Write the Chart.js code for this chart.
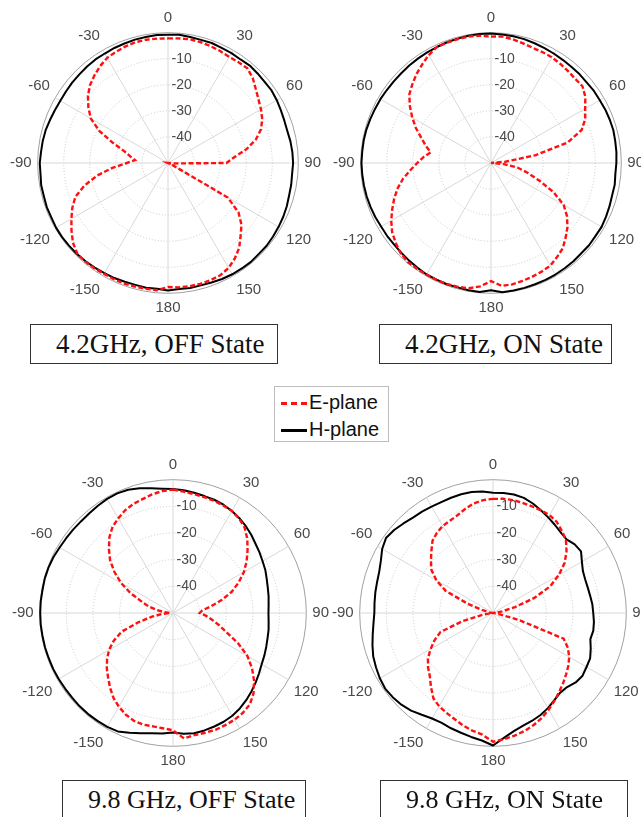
<!DOCTYPE html>
<html>
<head>
<meta charset="utf-8">
<script src="https://cdn.jsdelivr.net/npm/chart.js@4.4.0/dist/chart.umd.min.js"></script>
<style>
  html, body { margin: 0; padding: 0; background: #fff; overflow: hidden; }
  #page { position: relative; width: 641px; height: 817px; overflow: hidden; background: #fff; }
  #page canvas { position: absolute; }
  .caption {
    position: absolute; box-sizing: border-box; border: 1px solid #333;
    font-family: "Liberation Serif", "Times New Roman", serif; font-size: 27px;
    color: #111; padding-left: 25px; white-space: nowrap;
  }
  .caption.low { font-size: 26px; }
  #legend {
    position: absolute; left: 274px; top: 386px; width: 115px; height: 56px;
    box-sizing: border-box; border: 1px solid #bdbdbd;
    font-family: "Liberation Sans", Arial, sans-serif; font-size: 20px; color: #111;
  }
  #legend .row { position: absolute; left: 6px; height: 24px; line-height: 24px; white-space: nowrap; }
  #legend .swatch { display: inline-block; width: 26px; vertical-align: middle; margin-right: 2px; }
  #legend .dash { border-top: 3px dashed #ff1010; }
  #legend .solid { border-top: 3px solid #000; }
</style>
</head>
<body>
<div id="page">
  <canvas id="c42off" width="316" height="316" style="left:8px; top:5px;"></canvas>
  <canvas id="c42on" width="316" height="316" style="left:331px; top:5px;"></canvas>
  <canvas id="c98off" width="322" height="322" style="left:10px; top:452px;"></canvas>
  <canvas id="c98on" width="322" height="322" style="left:330px; top:452px;"></canvas>

  <div class="caption" style="left:30px; top:324px; width:248px; height:40px; line-height:38px;">4.2GHz, OFF State</div>
  <div class="caption" style="left:379px; top:324px; width:233px; height:40px; line-height:38px;">4.2GHz, ON State</div>
  <div class="caption low" style="left:62px; top:780px; width:244px; height:44px; line-height:38px;">9.8 GHz, OFF State</div>
  <div class="caption low" style="left:380px; top:780px; width:248px; height:44px; line-height:38px;">9.8 GHz, ON State</div>

  <div id="legend">
    <div class="row" style="top:3px;"><span class="swatch dash"></span>E-plane</div>
    <div class="row" style="top:30px;"><span class="swatch solid"></span>H-plane</div>
  </div>
</div>

<script>
// angle categories, clockwise from the top (deg)
const angles = [0, 5, 10, 15, 20, 25, 30, 35, 40, 45, 50, 55, 60, 65, 70, 75, 80, 85, 90, 95,
  100, 105, 110, 115, 120, 125, 130, 135, 140, 145, 150, 155, 160, 165, 170, 175, 180,
  -175, -170, -165, -160, -155, -150, -145, -140, -135, -130, -125, -120, -115, -110, -105,
  -100, -95, -90, -85, -80, -75, -70, -65, -60, -55, -50, -45, -40, -35, -30, -25, -20, -15, -10, -5];

// normalized gain (dB), same order as angles
const ePlane42Off = [-2.2, -2.0, -1.8, -2.0, -2.3, -2.6, -3.0, -2.8, -2.6, -4.0,
  -6.0, -7.6, -8.8, -10.1, -12.0, -15.1, -19.4, -24.5, -27.6, -48,
  -50, -50, -50, -48, -23.5, -17.0, -13.2, -10.6, -7.5, -5.3,
  -3.5, -2.5, -2.2, -2.0, -2.0, -2.1, -2.4,
  -1.0, -1.0, -0.9, -0.8, -0.8, -0.9, -0.7, -0.6, -0.8, -2.4,
  -4.8, -7.2, -9.5, -12.2, -16.9, -22.5, -28.6, -34.2, -37.3, -35.3,
  -32.7, -27.6, -20.9, -15.8, -12.7, -9.9, -7.7, -6.1, -4.6, -3.4,
  -2.9, -2.4, -2.0, -2.0, -2.1];
const hPlane42Off = [-0.8, -0.6, -0.9, -1.1, -1.0, -1.3, -1.3, -1.5, -1.2, -1.4,
  -1.6, -1.5, -1.8, -2.2, -2.5, -2.6, -2.3, -2.1, -2.0, -2.2,
  -2.0, -1.9, -1.5, -1.2, -1.0, -0.8, -0.6, -0.7, -0.5, -0.6,
  -0.7, -0.9, -1.2, -1.4, -1.3, -1.5, -1.1,
  -1.6, -1.4, -1.6, -1.5, -1.3, -1.2, -1.0, -0.8, -0.6, -0.5,
  -0.4, -0.4, -0.6, -0.5, -0.7, -0.6, -0.9, -0.8, -1.1, -1.2,
  -1.4, -1.8, -2.1, -2.3, -2.2, -2.0, -1.9, -1.7, -1.5, -1.5,
  -1.3, -1.2, -1.0, -0.9, -0.7];

const ePlane42On = [-1.5, -1.3, -1.8, -2.5, -3.0, -3.1, -3.2, -3.6, -4.0, -4.3,
  -4.2, -5.8, -8.3, -10.1, -13.0, -19.5, -32.5, -44.5, -50, -45,
  -39.5, -35.5, -30.3, -23.5, -17.8, -14.4, -11.7, -9.5, -7.2, -5.9,
  -4.5, -4.0, -3.6, -3.2, -2.7, -2.7, -4.7,
  -2.5, -1.2, -0.8, -0.6, -0.5, -0.5, -0.5, -0.4, -1.0, -2.3,
  -3.7, -5.8, -8.2, -10.5, -13.0, -15.8, -19.0, -21.7, -24.0, -26.5,
  -24.0, -21.5, -18.2, -15.1, -12.0, -9.1, -7.3, -5.5, -3.9, -2.2,
  -0.9, -0.8, -0.8, -0.7, -1.0];
const hPlane42On = [-0.3, -0.5, -0.6, -0.8, -1.1, -1.4, -1.6, -1.8, -1.9, -1.9,
  -2.0, -1.8, -1.8, -1.6, -1.5, -1.4, -1.6, -1.7, -1.9, -2.1,
  -1.8, -1.9, -1.6, -1.3, -1.0, -1.1, -0.9, -1.0, -0.8, -0.7,
  -0.6, -0.5, -0.5, -0.4, -0.3, -0.2, -1.2,
  -0.3, -0.4, -0.6, -0.5, -0.6, -0.6, -0.9, -1.1, -1.3, -1.4,
  -1.3, -1.3, -1.0, -0.8, -0.6, -0.5, -0.4, -0.3, -0.4, -0.4,
  -0.5, -0.7, -0.9, -1.0, -1.2, -1.3, -1.3, -1.2, -1.1, -1.0,
  -0.9, -0.7, -0.6, -0.4, -0.3];

const ePlane98Off = [-3.7, -4.3, -4.7, -5.0, -5.2, -5.5, -5.8, -6.8, -8.2, -10.6,
  -13.5, -16.3, -19.3, -22.8, -26.5, -31.0, -35.5, -39.0, -40.0, -37.5,
  -35.0, -32.0, -28.5, -23.0, -17.8, -13.8, -10.3, -7.3, -5.2, -4.3,
  -3.8, -3.6, -3.4, -3.5, -3.5, -2.8, -6.0,
  -6.6, -6.8, -6.7, -7.0, -8.0, -9.4, -11.1, -13.3, -15.6, -17.6,
  -19.8, -22.3, -25.5, -29.5, -36.5, -42.0, -46.0, -49.0, -47.0, -44.0,
  -40.5, -37.5, -32.5, -27.5, -23.2, -19.2, -16.0, -12.9, -10.5, -9.0,
  -7.5, -6.5, -5.8, -4.8, -4.1];
const hPlane98Off = [-3.5, -3.8, -4.2, -4.6, -4.8, -5.2, -5.8, -6.6, -7.5, -8.5,
  -9.6, -10.4, -11.2, -11.8, -12.6, -13.2, -13.6, -14.0, -14.2, -14.0,
  -13.6, -13.3, -12.8, -12.2, -11.6, -10.6, -9.5, -8.4, -7.3, -6.3,
  -5.5, -5.0, -4.7, -4.4, -4.2, -4.5, -5.2,
  -4.6, -4.2, -3.3, -2.2, -1.0, -0.7, -0.6, -0.5, -0.5, -0.6,
  -0.6, -0.5, -0.4, -0.4, -0.3, -0.3, -0.2, -0.2, -0.2, -0.3,
  -0.2, -0.3, -0.5, -0.9, -1.1, -1.2, -1.3, -1.2, -0.9, -0.6,
  -0.5, -0.8, -1.6, -2.5, -3.2];

const ePlane98On = [-7.2, -7.0, -7.0, -7.2, -7.4, -7.5, -7.6, -8.3, -9.8, -11.3,
  -14.0, -17.2, -21.5, -26.3, -33.5, -41.5, -46.5, -49.0, -50, -49.5,
  -48, -40, -21.8, -19.0, -17.0, -15.5, -14.2, -12.8, -11.4, -9.8,
  -8.2, -6.6, -5.3, -4.2, -3.3, -2.5, -1.7,
  -4.2, -5.2, -6.4, -7.7, -8.7, -9.6, -11.0, -13.8, -16.5, -18.2,
  -20.2, -23.0, -25.8, -29.0, -38.0, -46.0, -49.0, -50, -49.5, -48.5,
  -46, -40, -30.5, -25.5, -21.8, -19.6, -17.3, -14.7, -13.3, -12.3,
  -11.8, -11.0, -9.6, -8.3, -7.5];
const hPlane98On = [-4.9, -4.8, -4.9, -5.3, -6.3, -7.5, -8.6, -9.6, -10.5, -11.0,
  -10.0, -9.7, -11.5, -12.8, -13.2, -13.2, -13.0, -12.6, -12.4, -12.0,
  -11.8, -12.2, -11.0, -9.8, -9.5, -9.0, -9.5, -10.7, -10.9, -10.0,
  -8.8, -7.8, -7.0, -6.3, -5.0, -3.0, -0.3,
  -2.0, -2.8, -3.5, -4.0, -4.5, -4.3, -3.4, -2.2, -1.4, -0.9,
  -0.6, -1.0, -1.6, -2.2, -3.2, -4.2, -5.0, -5.5, -5.4, -5.2,
  -5.0, -4.6, -3.6, -2.0, -1.0, -1.6, -2.5, -3.3, -3.6, -3.9,
  -4.1, -4.0, -3.9, -3.9, -4.3];

const gainTicks = [-10, -20, -30, -40];

Chart.defaults.font.family = "'Liberation Sans', Arial, sans-serif";

function drawPolar(canvasId, eValues, hValues) {
    const ctx = document.getElementById(canvasId).getContext('2d');
    return new Chart(ctx, {
        type: 'radar',
        data: {
            labels: angles,
            datasets: [{
                label: 'E-plane',
                data: eValues,
                borderColor: '#ff1010',
                borderWidth: 2.4,
                borderDash: [5, 2.5],
                pointRadius: 0,
                fill: false
            }, {
                label: 'H-plane',
                data: hValues,
                borderColor: '#000',
                borderWidth: 2,
                borderJoinStyle: 'round',
                pointRadius: 0,
                fill: false
            }]
        },
        options: {
            responsive: false,
            animation: false,
            events: [],
            plugins: {
                legend: { display: false },
                tooltip: { enabled: false }
            },
            scales: {
                r: {
                    min: -50,
                    max: 0,
                    beginAtZero: false,
                    ticks: {
                        stepSize: 10,
                        showLabelBackdrop: false,
                        color: '#4a4a4a',
                        font: { size: 14 },
                        // pad so the text sits right of the 0 deg line
                        callback: v => gainTicks.includes(v) ? '       ' + v : ''
                    },
                    grid: {
                        circular: true,
                        color: c => c.tick.value === 0 ? '#a0a0a0' : '#c6c6c6',
                        lineWidth: 1
                    },
                    border: {
                        dash: c => c.tick.value === 0 ? [] : [1, 2]
                    },
                    angleLines: {
                        color: '#d8d8d8',
                        lineWidth: c => c.index % 6 === 0 ? 1 : 0
                    },
                    pointLabels: {
                        color: '#4a4a4a',
                        padding: -3,
                        font: { size: 15 },
                        callback: label => label % 30 === 0 ? String(label) : ''
                    }
                }
            }
        }
    });
}

drawPolar('c42off', ePlane42Off, hPlane42Off);
drawPolar('c42on', ePlane42On, hPlane42On);
drawPolar('c98off', ePlane98Off, hPlane98Off);
drawPolar('c98on', ePlane98On, hPlane98On);
</script>
</body>
</html>
